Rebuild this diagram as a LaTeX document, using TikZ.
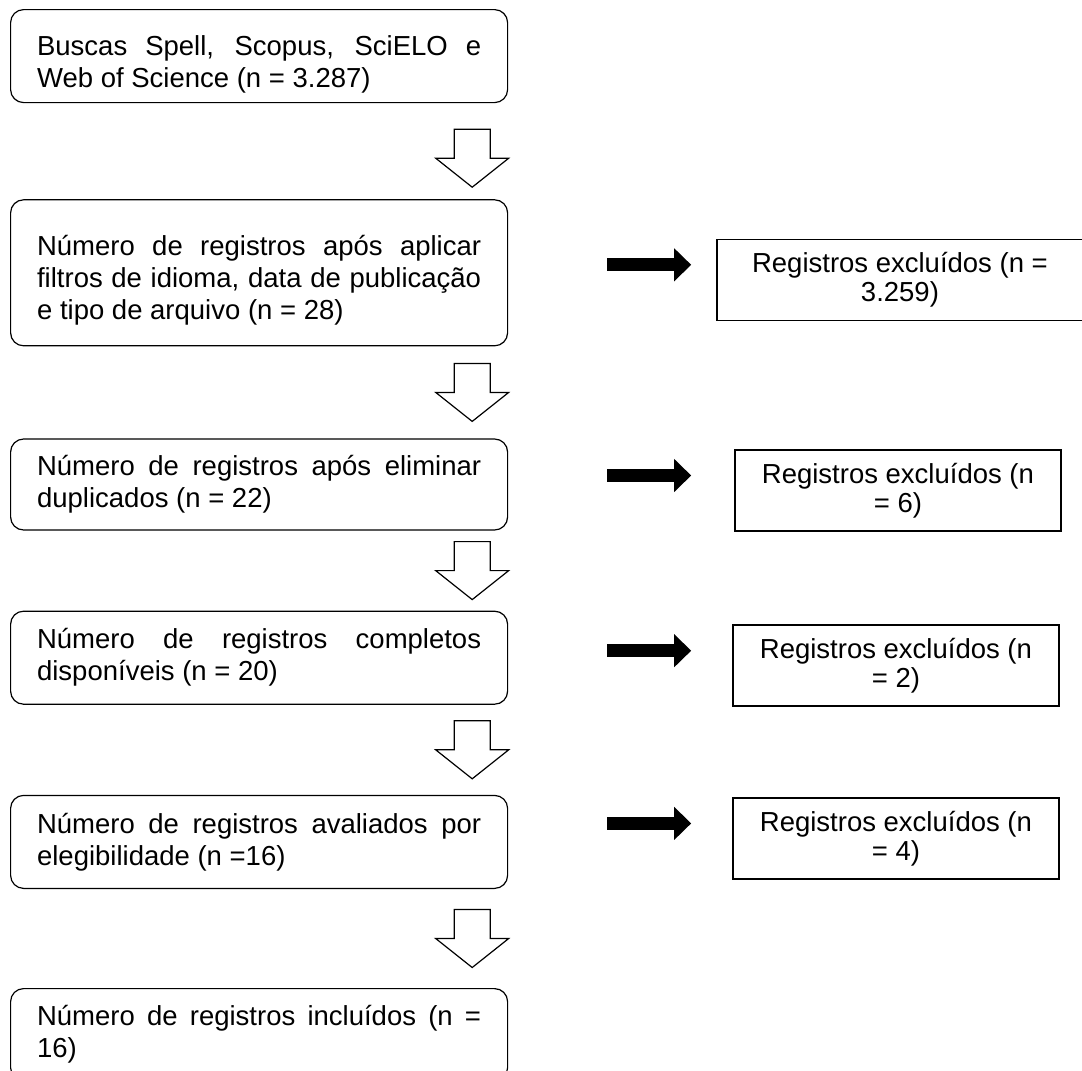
\documentclass[tikz,border=0pt]{standalone}
\usepackage{fontspec}
\setmainfont{Liberation Sans}
\usetikzlibrary{positioning, calc, arrows.meta}
\setlength{\parindent}{0pt}

\tikzset{
  stagebox/.style={draw, line width=0.6pt, rounded corners=6.5pt, text width=222pt, inner xsep=13.25pt, align=justify, font=\fontsize{13.75pt}{16pt}\selectfont},
  dropbox/.style={draw, line width=0.75pt, minimum width=163pt, minimum height=40.5pt, align=center, font=\fontsize{13.75pt}{14.5pt}\selectfont},
  downarrow/.style={draw, line width=0.6pt, to path={let \p1=($(\tikztostart.south east)!0.5!(\tikztotarget.north east)+(0,#1)$) in
    (\x1-27pt,\y1+14.5pt) -- (\x1-9pt,\y1+14.5pt) -- (\x1-9pt,\y1) -- (\x1+0.25pt,\y1) -- (\x1-18pt,\y1-14.5pt) -- (\x1-36.25pt,\y1) -- (\x1-27pt,\y1) -- cycle}},
  downarrow/.default=0pt,
  fatarrow/.style={line width=6.5pt, -{Triangle[length=8.5pt, width=16pt]}, shorten <=49.5pt}
}

\begin{document}
\begin{tikzpicture}
    \useasboundingbox[fill=white] (0,0) rectangle (541pt,-535.5pt);

    \node[stagebox, minimum height=46.5pt, anchor=north west] (busca) at (5pt,-4.5pt) {\rule{0pt}{18pt}Buscas Spell, Scopus, SciELO e\linebreak Web of Science (n = 3.287)};
    \node[stagebox, minimum height=73pt, below=48pt of busca] (filtro) {\rule{0pt}{18pt}Número de registros após aplicar\linebreak filtros de idioma, data de publicação\linebreak e tipo de arquivo (n = 28)};
    \node[stagebox, minimum height=45.5pt, below=46pt of filtro] (duplic) {Número de registros após eliminar\linebreak duplicados (n = 22)};
    \node[stagebox, minimum height=46.5pt, below=40pt of duplic] (complet) {Número de registros completos\linebreak disponíveis (n = 20)};
    \node[stagebox, minimum height=46.5pt, below=45pt of complet] (elegiv) {Número de registros avaliados por\linebreak elegibilidade (n =16)};
    \node[stagebox, minimum height=46pt, below=49.5pt of elegiv] (inclus) {Número de registros incluídos (n =\linebreak 16)};

    \node[dropbox, minimum width=183pt, right=104pt of filtro, yshift=-3.5pt] (excl1) {Registros excluídos (n =\\3.259)};
    \node[dropbox, right=113pt of duplic, yshift=-3pt] (excl2) {Registros excluídos (n\\= 6)};
    \node[dropbox, right=112pt of complet, yshift=-4pt] (excl3) {Registros excluídos (n\\= 2)};
    \node[dropbox, right=112pt of elegiv, yshift=1.75pt] (excl4) {Registros excluídos (n\\= 4)};

    \draw[downarrow=-3.5pt] (busca) to (filtro);
    \draw[downarrow] (filtro) to (duplic);
    \draw[downarrow] (duplic) to (complet);
    \draw[downarrow] (complet) to (elegiv);
    \draw[downarrow] (elegiv) to (inclus);

    \draw[fatarrow, shorten >=12.5pt] ([yshift=7.5pt]excl1.west -| filtro.east) -- ([yshift=7.5pt]excl1.west);
    \draw[fatarrow, shorten >=21.5pt] ([yshift=7.5pt]excl2.west -| duplic.east) -- ([yshift=7.5pt]excl2.west);
    \draw[fatarrow, shorten >=20.5pt] ([yshift=7.5pt]excl3.west -| complet.east) -- ([yshift=7.5pt]excl3.west);
    \draw[fatarrow, shorten >=20.5pt] ([yshift=7.5pt]excl4.west -| elegiv.east) -- ([yshift=7.5pt]excl4.west);
\end{tikzpicture}
\end{document}
